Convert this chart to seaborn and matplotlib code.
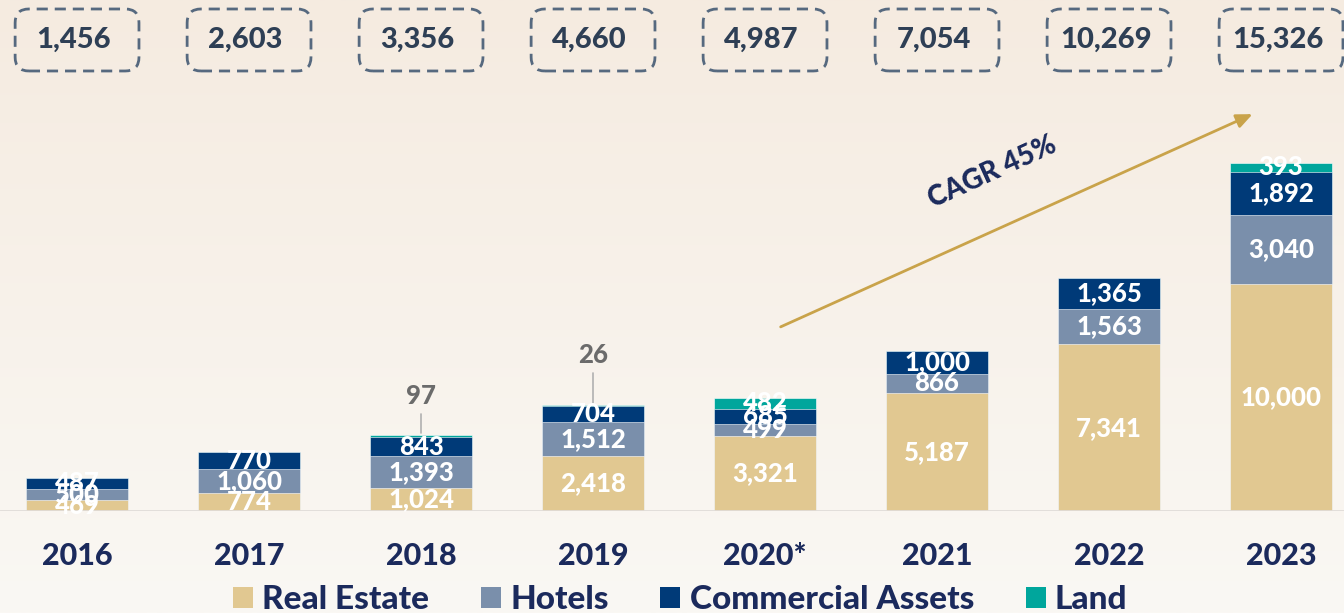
import numpy as np
import pandas as pd
import matplotlib.pyplot as plt
import seaborn as sns
from matplotlib.patches import FancyBboxPatch, Patch
from matplotlib.colors import LinearSegmentedColormap

years = ['2016', '2017', '2018', '2019', '2020*', '2021', '2022', '2023']
real_estate = [469, 774, 1024, 2418, 3321, 5187, 7341, 10000]
hotels = [500, 1060, 1393, 1512, 499, 866, 1563, 3040]
commercial = [487, 770, 843, 704, 685, 1000, 1365, 1892]
land = [0, 0, 97, 26, 482, 0, 0, 393]
totals = ['1,456', '2,603', '3,356', '4,660', '4,987', '7,054', '10,269', '15,326']

series = ['Real Estate', 'Hotels', 'Commercial Assets', 'Land']
colors = ['#e1c891', '#7a8fab', '#003a78', '#00a69c']

df = pd.DataFrame({'year': years, 'Real Estate': real_estate, 'Hotels': hotels,
                   'Commercial Assets': commercial, 'Land': land})
cum = df[series].cumsum(axis=1)
cum['year'] = years

sns.set_theme(style='white')
plt.rcParams['font.family'] = ['Lato', 'DejaVu Sans']
navy = '#1b2a5c'
W = 'black'

fig = plt.figure(figsize=(13.44, 6.13), dpi=100)

# background gradient
bg = fig.add_axes([0, 0, 1, 1], zorder=-10)
grad = np.linspace(0, 1, 256).reshape(-1, 1)
cmap = LinearSegmentedColormap.from_list('bg', ['#f5ebe0', '#faf8f4'])
bg.imshow(grad, aspect='auto', cmap=cmap, extent=[0, 1, 0, 1])
bg.axis('off')

ax = fig.add_axes([0, 102 / 613, 1, 511 / 613])
ax.set_facecolor('none')

# stacked bars: draw cumulative layers from top down
for s, c in reversed(list(zip(series, colors))):
    sns.barplot(data=cum, x='year', y=s, color=c, width=0.59, ax=ax,
                saturation=1, edgecolor='#ffffff', linewidth=0.4)

ax.set_xlim(-0.448, 7.366)
ax.set_ylim(0, 22504)

# segment labels
for i in range(len(years)):
    base = 0
    for s in series:
        v = df[s][i]
        if v > 0 and not (s == 'Land' and v < 100):
            ax.text(i, base + v / 2, f'{v:,}', ha='center', va='center',
                    color='white', fontsize=18.5, fontweight=W)
        base += v

# small land values with leaders
for i in range(len(years)):
    v = land[i]
    if 0 < v < 100:
        top = cum['Land'][i]
        ax.plot([i, i], [top + 80, top + 900 + (top > 4000) * 500], color='#b0b0b0', lw=1.2)
        ax.text(i, top + 1700 + (top > 4000) * 500, f'{v}', ha='center', va='center',
                color='#6b6b6b', fontsize=18.5, fontweight=W)

# totals in dashed boxes
for i, t in enumerate(totals):
    box = FancyBboxPatch((i - 0.36, 20743 - 1365), 0.72, 2730,
                         boxstyle='round,pad=0,rounding_size=0.08', mutation_aspect=7575,
                         fill=False, edgecolor='#56697f', lw=2, ls=(0, (4, 2.5)),
                         clip_on=False)
    ax.add_patch(box)
    ax.text(i - 0.02, 20743, t, ha='center', va='center', color='#2e3f55',
            fontsize=21, fontweight=W)

# CAGR arrow
ax.annotate('', xy=(6.849, 17528), xytext=(4.076, 8059),
            arrowprops=dict(arrowstyle='-|>,head_length=0.8,head_width=0.35',
                            color='#c9a34a', lw=2))
ax.text(5.32, 14930, 'CAGR 45%', rotation=24.5, ha='center', va='center',
        color=navy, fontsize=20, fontweight=W, rotation_mode='anchor')

ax.axhline(0, color='#e0dcd8', lw=2)
sns.despine(ax=ax, left=True, bottom=True)
ax.set_yticks([])
ax.set_xlabel('')
ax.set_ylabel('')
ax.tick_params(axis='x', length=0, pad=22)
for lab in ax.get_xticklabels():
    lab.set_fontsize(22)
    lab.set_fontweight(W)
    lab.set_color(navy)

handles = [Patch(facecolor=c, edgecolor='none', label=s) for s, c in zip(series, colors)]
leg = fig.legend(handles=handles, loc='center', bbox_to_anchor=(0.506, 0.022), ncol=4,
                 frameon=False, handlelength=0.6, handleheight=0.6, handletextpad=0.28,
                 columnspacing=1.55, borderaxespad=0, borderpad=0,
                 prop={'size': 24, 'weight': W}, labelcolor=navy)

fig.savefig('out.png', dpi=100)
